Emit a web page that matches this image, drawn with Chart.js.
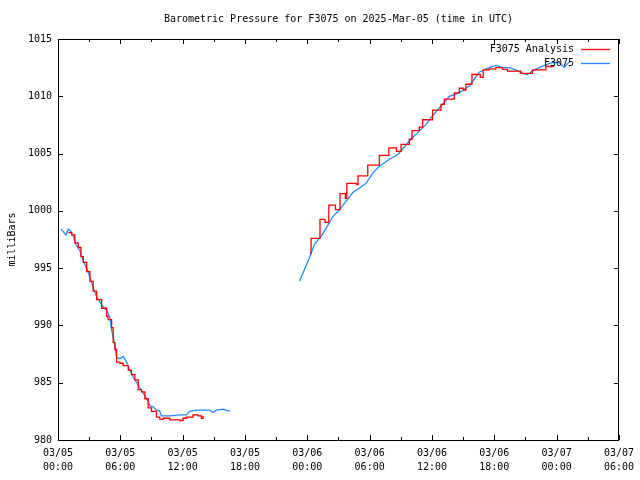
<!DOCTYPE html>
<html>
<head>
<meta charset="utf-8">
<script src="https://cdn.jsdelivr.net/npm/chart.js@4.4.1/dist/chart.umd.min.js"></script>
<style>
  body { margin: 0; background: #fff; }
  canvas { display: block; }
</style>
</head>
<body>
<canvas id="Chart" width="640" height="480"></canvas>
<script>
// hours since 03/05 00:00 UTC, null = no data (gap)
let analysisHours = [0.99, 1.32, 1.63, 1.95, 2.21, 2.43, 2.76, 3.07, 3.39, 3.72, 4.20, 4.68, 4.83, 5.16, 5.31, 5.48, 5.64, 5.96, 6.27, 6.76,
  7.08, 7.40, 7.72, 8.04, 8.36, 8.68, 9.00, 9.48, 9.80, 10.12, 10.76, 11.72, 12.04, 12.37, 13.00, 13.48, 13.81, 13.96,
  20.00,
  24.26, 24.36, 25.22, 25.70, 26.07, 26.71, 27.15, 27.67, 27.80, 28.73, 28.88, 29.82, 30.94, 31.85, 32.58, 33.03, 33.82, 34.08,
  34.78, 35.10, 36.06, 36.87, 37.19, 38.15, 38.63, 39.01, 39.27, 39.85, 40.65, 40.93, 41.51, 42.15, 42.79, 43.27, 44.56, 45.67,
  46.96, 47.76]
let analysisValues = [998.1, 997.9, 997.2, 996.8, 996.0, 995.5, 994.7, 993.85, 993.0, 992.25, 991.5, 990.8, 990.5, 989.8, 988.5, 987.9, 986.8, 986.7, 986.5, 986.1,
  985.7, 985.25, 984.4, 984.2, 983.6, 982.8, 982.5, 982.0, 981.8, 981.9, 981.75, 981.7, 981.9, 982.0, 982.2, 982.1, 981.9, 982.1,
  null,
  996.3, 997.6, 999.25, 999.0, 1000.5, 1000.1, 1001.5, 1001.1, 1002.4, 1002.3, 1003.05, 1004.0, 1004.85, 1005.5, 1005.2, 1005.8, 1006.25, 1007.0,
  1007.3, 1007.95, 1008.8, 1009.3, 1009.75, 1010.3, 1010.7, 1010.55, 1011.05, 1011.9, 1011.65, 1012.3, 1012.4, 1012.5, 1012.35, 1012.2, 1012.0, 1012.3,
  1012.6, 1012.6]

let sensorHours = [0.29, 0.77, 0.99, 1.25, 1.47, 1.70, 2.11, 2.43, 2.76, 3.07, 3.39, 3.72, 4.20, 4.68, 5.00, 5.16, 5.48, 5.64, 5.96, 6.27,
  6.60, 6.92, 7.24, 7.72, 8.20, 8.68, 8.84, 9.16, 9.48, 9.80, 9.96, 10.76, 11.72, 12.37, 12.68, 13.33, 13.96, 14.61, 14.92, 15.25,
  15.88, 16.53,
  20.00,
  23.25, 23.73, 24.21, 24.70, 25.34, 25.82, 26.45, 27.10, 27.74, 28.38, 29.02, 29.66, 30.30, 30.94, 31.90, 32.70, 33.18, 33.82,
  34.47, 35.43, 36.06, 36.87, 37.67, 38.63, 39.59, 40.07, 40.55, 41.19, 42.15, 42.79, 43.43, 44.08, 44.71, 45.19, 45.67, 46.31,
  46.96, 47.59, 48.24, 48.72, 49.20]
let sensorValues = [998.4, 997.9, 998.4, 998.2, 997.8, 997.1, 996.5, 995.6, 995.0, 994.2, 993.3, 992.5, 991.8, 991.3, 990.7, 989.6, 988.3, 987.2, 987.1, 987.3,
  986.8, 986.1, 985.5, 984.8, 984.1, 983.35, 983.0, 982.9, 982.6, 982.5, 982.1, 982.1, 982.2, 982.2, 982.5, 982.6, 982.6, 982.6, 982.4, 982.6,
  982.7, 982.5,
  null,
  993.85, 994.9, 995.9, 997.1, 997.8, 998.5, 999.5, 1000.1, 1000.85, 1001.6, 1002.0, 1002.4, 1003.3, 1003.9, 1004.5, 1004.9, 1005.4, 1006.1,
  1006.7, 1007.55, 1008.3, 1009.15, 1010.0, 1010.3, 1010.9, 1011.5, 1012.1, 1012.4, 1012.7, 1012.5, 1012.5, 1012.3, 1012.0, 1011.9, 1012.2, 1012.5,
  1012.75, 1012.95, 1012.95, 1012.5, 1013.0]

// x axis labels, one every 6 hours
let tickHours = [0, 6, 12, 18, 24, 30, 36, 42, 48, 54]
let tickDay = ['03/05', '03/05', '03/05', '03/05', '03/06', '03/06', '03/06', '03/06', '03/07', '03/07']
let tickTime = ['00:00', '06:00', '12:00', '18:00', '00:00', '06:00', '12:00', '18:00', '00:00', '06:00']

let titulo = 'Barometric Pressure for F3075 on 2025-Mar-05 (time in UTC)'
let fonte = '"DejaVu Sans Mono", monospace'

function pontos(xs, ys) {
  let out = []
  for (let i = 0; i < xs.length; i++) {
    out.push({ x: xs[i], y: ys[i] })
  }
  return out
}

// title, box, inward ticks and legend in gnuplot style
const moldura = {
  id: 'moldura',
  afterDraw(chart) {
    let ctx = chart.ctx
    let a = chart.chartArea
    let sx = chart.scales.x
    let sy = chart.scales.y
    ctx.save()
    ctx.fillStyle = '#000'
    ctx.font = '10px ' + fonte
    ctx.textAlign = 'center'
    ctx.textBaseline = 'middle'
    ctx.fillText(titulo, (a.left + a.right) / 2, 19)

    ctx.strokeStyle = '#000'
    ctx.lineWidth = 1
    ctx.beginPath()
    ctx.rect(Math.round(a.left) + 0.5, Math.round(a.top) + 0.5, Math.round(a.right - a.left) - 1, Math.round(a.bottom - a.top))
    // major x ticks
    tickHours.forEach(function (h) {
      let px = Math.round(sx.getPixelForValue(h)) + 0.5
      ctx.moveTo(px, a.bottom); ctx.lineTo(px, a.bottom - 5)
      ctx.moveTo(px, a.top); ctx.lineTo(px, a.top + 5)
    })
    // minor x ticks every 3 hours
    for (let h = 3; h < 54; h += 6) {
      let px = Math.round(sx.getPixelForValue(h)) + 0.5
      ctx.moveTo(px, a.bottom); ctx.lineTo(px, a.bottom - 3)
      ctx.moveTo(px, a.top); ctx.lineTo(px, a.top + 3)
    }
    sy.ticks.forEach(function (t) {
      let py = Math.round(sy.getPixelForValue(t.value)) + 0.5
      ctx.moveTo(a.left, py); ctx.lineTo(a.left + 5, py)
      ctx.moveTo(a.right, py); ctx.lineTo(a.right - 5, py)
    })
    ctx.stroke()

    // legend top right
    ctx.textAlign = 'right'
    chart.data.datasets.forEach(function (ds, i) {
      let ly = 49 + i * 14
      ctx.fillStyle = '#000'
      ctx.fillText(ds.label, 574, ly)
      ctx.strokeStyle = ds.borderColor
      ctx.lineWidth = 1.3
      ctx.beginPath()
      ctx.moveTo(581, ly + 0.5); ctx.lineTo(610, ly + 0.5)
      ctx.stroke()
    })
    ctx.restore()
  }
}

let myChart = new Chart(document.getElementById('Chart'), {
  type: 'line',
  data: {
    datasets: [
      {
        label: 'F3075 Analysis',
        data: pontos(analysisHours, analysisValues),
        borderColor: '#ff0000',
        borderWidth: 1.3,
        pointRadius: 0,
        stepped: true,
        spanGaps: false
      },
      {
        label: 'F3075',
        data: pontos(sensorHours, sensorValues),
        borderColor: '#1e8cff',
        borderWidth: 1.3,
        pointRadius: 0,
        tension: 0,
        spanGaps: false
      }
    ]
  },
  options: {
    responsive: false,
    animation: false,
    layout: { padding: { top: 39, right: 19, bottom: 0, left: 0 } },
    plugins: {
      legend: { display: false },
      tooltip: { enabled: false }
    },
    scales: {
      x: {
        type: 'linear',
        min: 0,
        max: 54,
        afterFit: function (s) { s.height = 40 },
        afterBuildTicks: function (s) { s.ticks = tickHours.map(function (h) { return { value: h } }) },
        grid: { display: false, drawTicks: false },
        border: { display: false },
        ticks: {
          padding: 6,
          color: '#000',
          maxRotation: 0,
          autoSkip: false,
          font: { family: fonte, size: 10, lineHeight: 1.4 },
          callback: function (v) {
            let i = tickHours.indexOf(v)
            return [tickDay[i], tickTime[i]]
          }
        }
      },
      y: {
        min: 980,
        max: 1015,
        afterFit: function (s) { s.width = 58 },
        grid: { display: false, drawTicks: false },
        border: { display: false },
        ticks: {
          stepSize: 5,
          padding: 6,
          color: '#000',
          font: { family: fonte, size: 10 },
          callback: function (v) { return String(v) }
        },
        title: {
          display: true,
          text: 'milliBars',
          color: '#000',
          padding: { top: 6, bottom: 0 },
          font: { family: fonte, size: 10 }
        }
      }
    }
  },
  plugins: [moldura]
})
</script>
</body>
</html>
